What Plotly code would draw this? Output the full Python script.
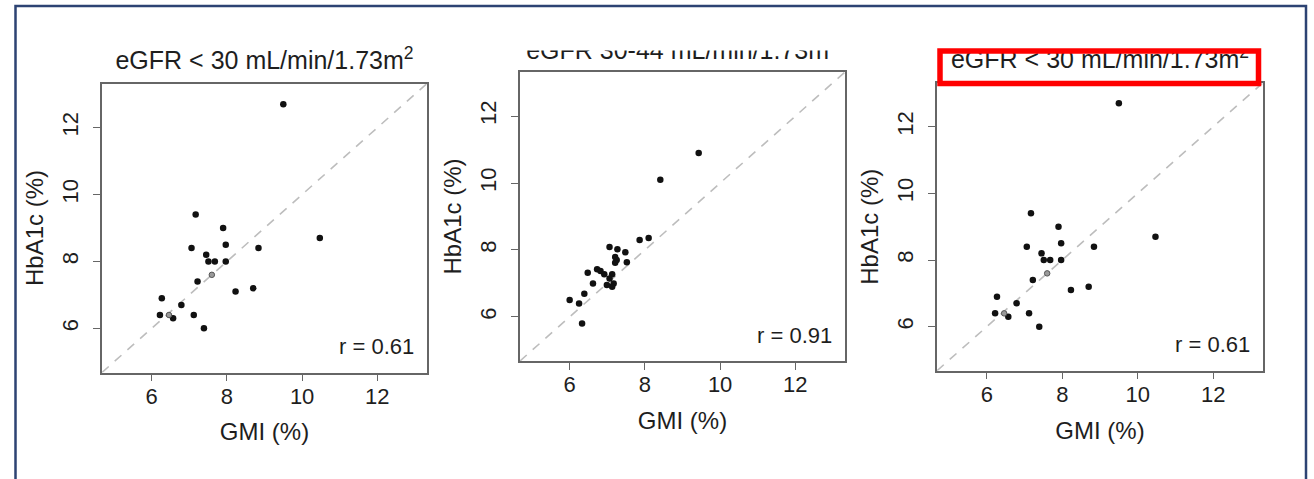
import plotly.graph_objects as go

W, H = 1314, 479

# GMI and HbA1c (%) per patient, eGFR < 30 mL/min/1.73m2
gmi_lt30 = [9.50, 7.17, 7.90, 10.47, 7.06, 7.97, 8.84, 7.45, 7.51, 7.68,
            7.97, 7.22, 8.23, 8.70, 6.27, 6.79, 6.22, 6.57, 7.12, 7.39]
hba1c_lt30 = [12.70, 9.40, 9.00, 8.70, 8.40, 8.50, 8.40, 8.20, 8.00, 8.00,
              8.00, 7.40, 7.10, 7.20, 6.90, 6.70, 6.40, 6.30, 6.40, 6.00]
# two points rendered lighter (overplotted on the identity line)
gmi_lt30_faint = [7.60, 6.46]
hba1c_lt30_faint = [7.60, 6.40]

# GMI and HbA1c (%) per patient, eGFR 30-44 mL/min/1.73m2
gmi_30_44 = [9.43, 8.41, 7.86, 8.10, 7.06, 7.27, 7.48, 7.21, 7.25, 7.21,
             7.52, 6.48, 6.73, 6.82, 6.92, 7.13, 7.06, 7.17, 6.99, 7.13,
             6.62, 6.39, 6.00, 6.25, 6.33]
hba1c_30_44 = [10.90, 10.10, 8.30, 8.36, 8.09, 8.02, 7.93, 7.79, 7.70, 7.62,
               7.63, 7.32, 7.42, 7.37, 7.27, 7.27, 7.15, 7.00, 6.95, 6.90,
               7.00, 6.69, 6.50, 6.40, 5.80]

titles = ["eGFR < 30 mL/min/1.73m<sup>2</sup>",
          "eGFR 30-44 mL/min/1.73m<sup>2</sup>",
          "eGFR < 30 mL/min/1.73m<sup>2</sup>"]
r_labels = ["r = 0.61", "r = 0.91", "r = 0.61"]
tick_values = [6, 8, 10, 12]
axis_limits = [4.68, 13.32]
x_title = "GMI (%)"
y_title = "HbA1c (%)"

FONT = "Liberation Sans, Arial, Helvetica, sans-serif"
TEXT = "#1e1e1e"
BOX = "#666666"
TITLE_SIZE = 25

# panel plot boxes in pixels: left, top, right, bottom
boxes = [(102, 83.5, 427, 372.5), (520, 72, 845, 361), (937, 82.7, 1263, 370.7)]
# title anchor line (pixels from top)
title_y = [63, 53, 62]
# top edge (pixels) above which each title is trimmed; None = not trimmed
title_clip = [None, 50.5, 52.5]

panels = [
    (gmi_lt30, hba1c_lt30, gmi_lt30_faint, hba1c_lt30_faint),
    (gmi_30_44, hba1c_30_44, [], []),
    (gmi_lt30, hba1c_lt30, gmi_lt30_faint, hba1c_lt30_faint),
]

fig = go.Figure()
layout = dict(
    width=W, height=H,
    margin=dict(l=0, r=0, t=0, b=0),
    paper_bgcolor="white",
    plot_bgcolor="rgba(0,0,0,0)",
    showlegend=False,
    font=dict(family=FONT, color=TEXT),
    annotations=[],
    shapes=[],
)

for i, ((gx, hy, fx, fy), (l, t, r, b)) in enumerate(zip(panels, boxes)):
    n = "" if i == 0 else str(i + 1)
    xa, ya = "x" + n, "y" + n
    # identity line
    fig.add_trace(go.Scatter(
        x=axis_limits, y=axis_limits, mode="lines", xaxis=xa, yaxis=ya,
        line=dict(color="#bdbdbd", width=1.6, dash="9px,8px"),
        hoverinfo="skip"))
    fig.add_trace(go.Scatter(
        x=gx, y=hy, mode="markers", xaxis=xa, yaxis=ya,
        marker=dict(size=6.5, color="#111111", line=dict(width=0))))
    if fx:
        fig.add_trace(go.Scatter(
            x=fx, y=fy, mode="markers", xaxis=xa, yaxis=ya,
            marker=dict(size=5.5, color="#9a9a9a",
                        line=dict(width=1, color="#555555"))))
    common = dict(
        range=axis_limits, tickvals=tick_values, ticks="outside", ticklen=7,
        tickwidth=1.4, tickcolor=BOX, showline=True, linecolor=BOX,
        linewidth=1.5, mirror=True, showgrid=False, zeroline=False,
        tickfont=dict(size=22, family=FONT, color=TEXT), fixedrange=True,
    )
    layout["xaxis" + n] = dict(
        common, domain=[l / W, r / W], anchor=ya,
        title=dict(text=x_title, font=dict(size=24, family=FONT, color=TEXT), standoff=16),
        ticklabelstandoff=-4,
    )
    layout["yaxis" + n] = dict(
        common, domain=[1 - b / H, 1 - t / H], anchor=xa, tickangle=-90,
        title=dict(text=y_title, font=dict(size=24, family=FONT, color=TEXT), standoff=8),
        ticklabelstandoff=6,
    )
    layout["annotations"].append(dict(
        text=r_labels[i], xref=xa + " domain", yref=ya + " domain",
        x=1, y=0, xanchor="right", yanchor="middle", xshift=-11, yshift=26,
        showarrow=False, font=dict(size=22, family=FONT, color=TEXT)))

# page-level overlays in pixel coordinates, one per title; the top edge of
# each overlay's domain trims its title text
centers = [(l + r) / 2 for (l, t, r, b) in boxes]
for i in range(3):
    k = str(4 + i)
    top = title_clip[i] if title_clip[i] is not None else 0
    layout["xaxis" + k] = dict(domain=[0, 1], range=[0, W], visible=False, fixedrange=True)
    layout["yaxis" + k] = dict(domain=[0, 1 - top / H], range=[H, top],
                               visible=False, fixedrange=True, anchor="x" + k)
    fig.add_trace(go.Scatter(
        x=[centers[i]], y=[title_y[i]], mode="text", text=[titles[i]],
        textposition="middle center",
        textfont=dict(size=TITLE_SIZE, family=FONT, color=TEXT),
        xaxis="x" + k, yaxis="y" + k,
        cliponaxis=title_clip[i] is not None, hoverinfo="skip"))

# outer navy frame
layout["shapes"].append(dict(
    type="rect", xref="paper", yref="paper",
    x0=15.5 / W, y0=-0.05, x1=1306 / W, y1=1 - 6 / H,
    line=dict(color="#2d4373", width=2.5), layer="above"))
# red highlight around the third title
layout["shapes"].append(dict(
    type="rect", xref="paper", yref="paper",
    x0=940 / W, y0=1 - 83.5 / H, x1=1258.5 / W, y1=1 - 51 / H,
    line=dict(color="#ff0000", width=5.5), layer="above"))

fig.update_layout(**layout)
fig.write_html("out.html")
